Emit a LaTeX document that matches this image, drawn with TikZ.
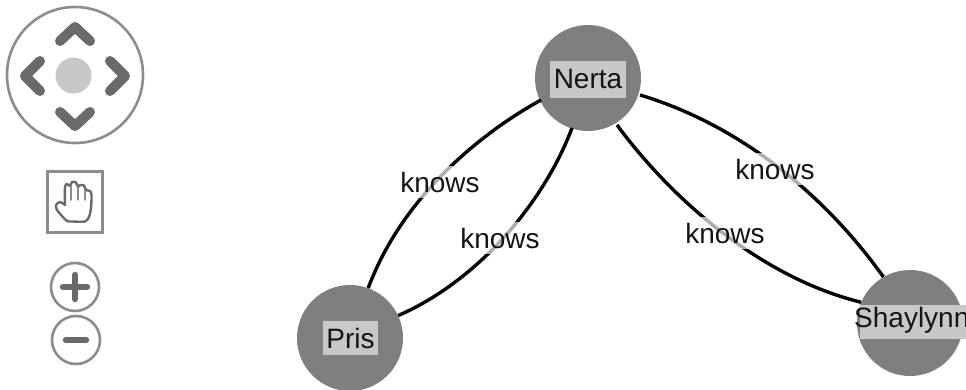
\documentclass[tikz,border=0pt]{standalone}
\usepackage{fontspec}
\setmainfont{Liberation Sans}
\definecolor{nodegrey}{HTML}{7F7F7F}
\definecolor{bargrey}{HTML}{C8C8C8}
\definecolor{icongrey}{HTML}{6A6A6A}
\definecolor{ringgrey}{HTML}{8C8C8C}
\definecolor{ink}{HTML}{141414}
\tikzset{
  person/.style={circle,fill=nodegrey,minimum size=106pt,inner sep=0pt},
  namebar/.style={fill=bargrey,inner sep=0pt},
  nametext/.style={inner sep=0pt,text=ink,font=\fontsize{28}{30}\selectfont},
  rel/.style={draw=black,line width=3.4pt},
  rellabel/.style={fill=white,fill opacity=.68,text opacity=1,text=ink,inner sep=0pt,minimum width=81pt,minimum height=32pt,font=\fontsize{28}{30}\selectfont},
  chev/.style={draw=icongrey,line width=10pt,line cap=round,line join=round},
  ring/.style={draw=ringgrey,line width=2.6pt},
  bar/.style={draw=icongrey,line width=6.5pt,line cap=round}
}
\begin{document}
\begin{tikzpicture}[x=1pt,y=-1pt]
\useasboundingbox (0,0) rectangle (966,389);
\clip (0,0) rectangle (966,389);
\fill[white] (0,0) rectangle (966,389);
% pan control
\draw[ring] (75,75) circle (68);
\fill[bargrey] (73.5,75.5) circle (18);
\draw[chev] (60,41) -- (75,27) -- (90,41);
\draw[chev] (40,61) -- (25,76) -- (40,91);
\draw[chev] (110,61) -- (125,76) -- (110,91);
\draw[chev] (60,112) -- (75,126) -- (90,112);
% hand tool
\draw[draw=ringgrey,line width=3pt] (47,171) rectangle (102,232);
\draw[draw=icongrey,line width=2.4pt,line join=round,line cap=round]
  plot[smooth,tension=.45] coordinates {(65,205) (60,202) (56,205) (57,210) (62,216) (67,221) (72,221.5) (85,221.5) (89,217) (91,208) (91.5,195) (90,191) (86,190) (84,185.5) (80,185) (78,187) (76,182.5) (72,182) (70,186) (67,184) (65,187) (65,205)};
\draw[draw=ringgrey,line width=1.4pt,line cap=round] (71,186) -- (71,200) (78,187) -- (78,200) (85,190) -- (85,200);
% zoom controls
\draw[ring] (75,287) circle (24);
\draw[bar] (63,287) -- (87,287) (75,275) -- (75,299);
\draw[ring] (76,340) circle (24);
\draw[bar] (66,340) -- (86,340);
% people
\node[person] (nerta) at (588,78) {};
\node[person] (pris) at (350,338) {};
\node[person] (shay) at (910,323) {};
% relationships
\draw[rel] (nerta.center) ++(-47,22) coordinate (n1) (n1) .. controls (490,128) and (405,190) .. (pris.70);
\draw[rel] (nerta.center) ++(-16,50) coordinate (n2) (n2) .. controls (545,200) and (480,280) .. (pris.25);
\draw[rel] (nerta.center) ++(52,17) coordinate (n3) (n3) .. controls (740,125) and (825,195) .. (shay.120);
\draw[rel] (nerta.center) ++(29,47) coordinate (n4) (n4) .. controls (680,210) and (770,280) .. (shay.157);
\node[rellabel] (k1) at (440,182) {knows};
\node[rellabel] (k2) at (500,238) {knows};
\node[rellabel] (k3) at (775,169) {knows};
\node[rellabel] (k4) at (725,233) {knows};
% names
\node[namebar,minimum width=76pt,minimum height=37pt] (nb) at (588,79) {};
\node[namebar,minimum width=55pt,minimum height=34pt] (pb) at (350.5,338) {};
\node[namebar,minimum width=106pt,minimum height=34pt] (sb) at (913,322) {};
\node[nametext] (nt) at (588,79) {Nerta};
\node[nametext] (pt) at (350.5,338) {Pris};
\node[nametext,anchor=west] (st) at (854,320) {Shaylynn};
\end{tikzpicture}
\end{document}
